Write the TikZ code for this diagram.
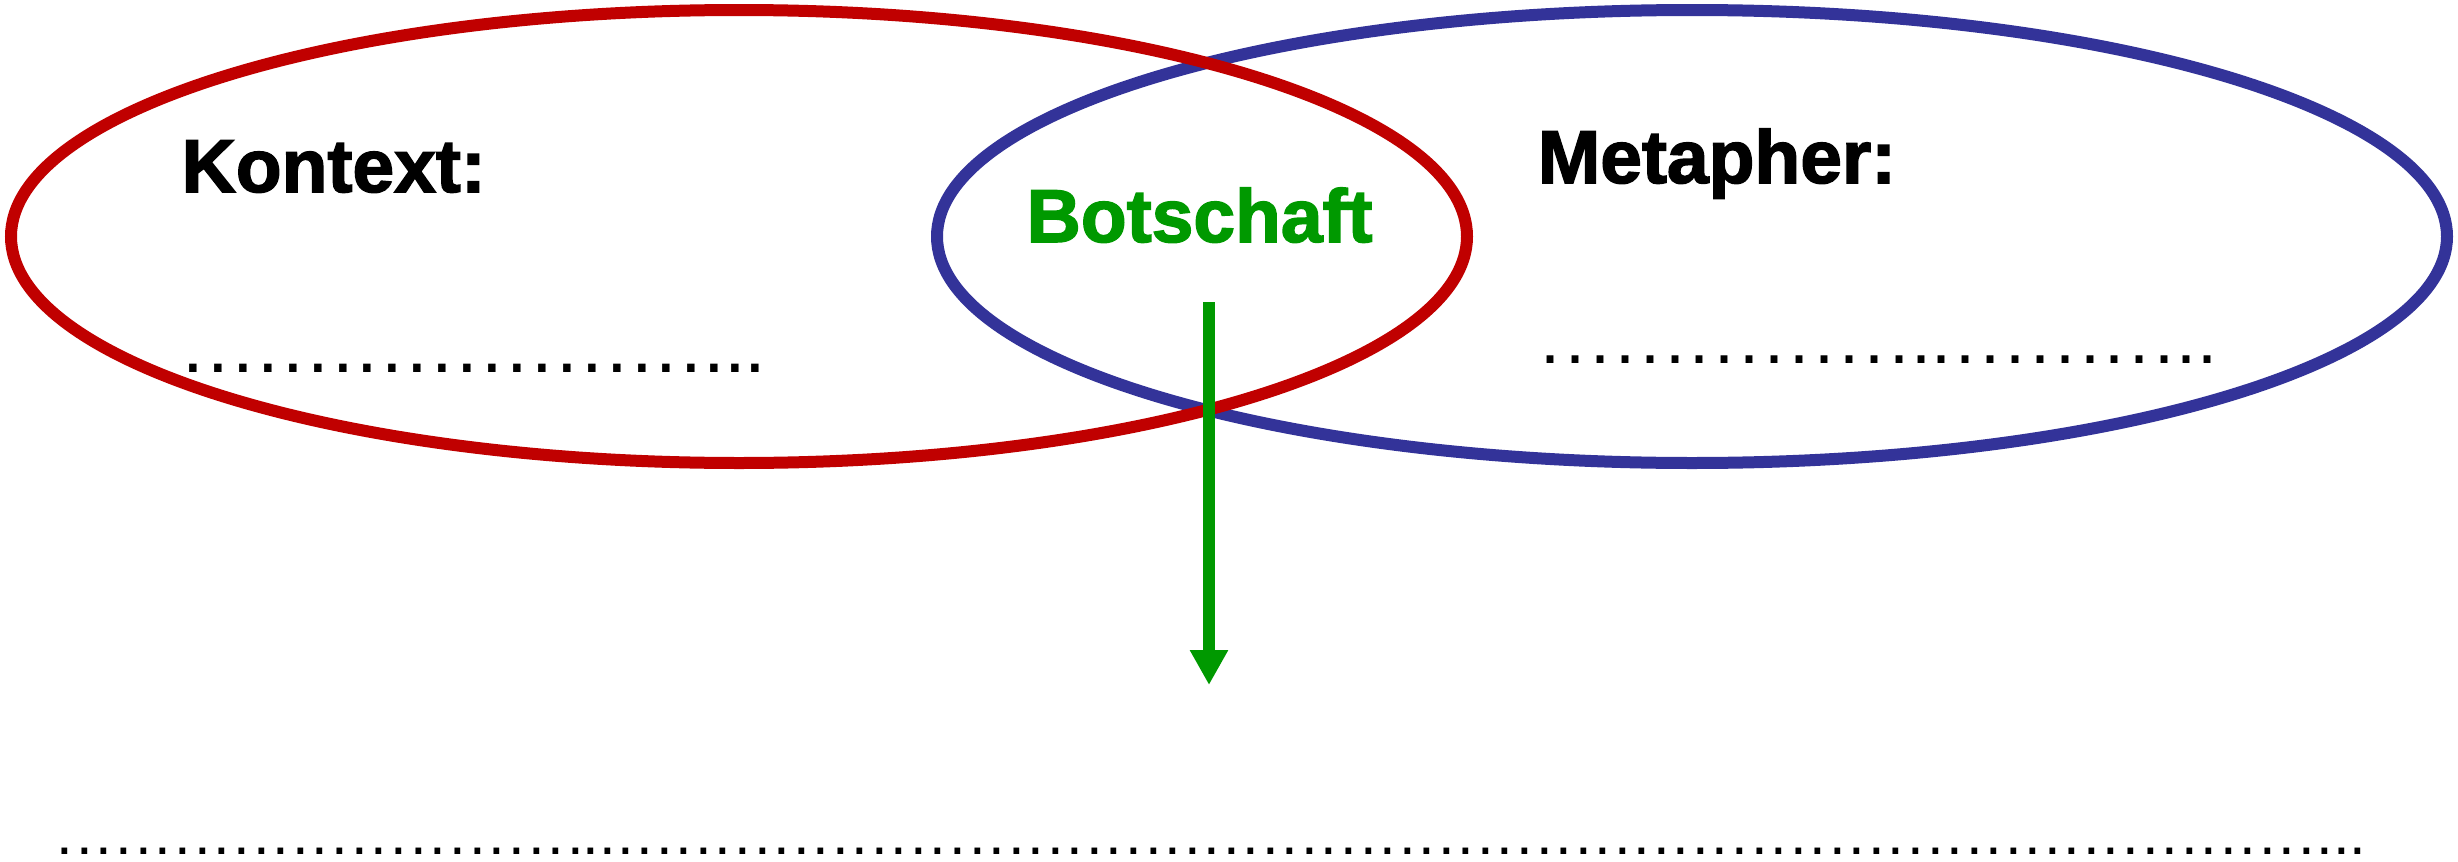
\documentclass[tikz,border=0pt]{standalone}
\usepackage{fontspec}
\setmainfont{Liberation Sans}
\usetikzlibrary{arrows.meta}
\definecolor{ctxred}{HTML}{C00000}
\definecolor{metblue}{HTML}{333399}
\definecolor{msggreen}{HTML}{009900}
% a run of #1 periods, each followed by a gap of #2
\newcount\dotctr
\newcommand\dotrun[2]{\dotctr=0 \loop\ifnum\dotctr<#1 \makebox[0pt][c]{.}\hspace{#2}\advance\dotctr by 1 \repeat}

\begin{document}
\begin{tikzpicture}[x=1pt,y=-1pt,
  ring/.style={line width=12pt},
  heading/.style={font=\fontsize{75}{90}\selectfont\bfseries\addfontfeature{FakeBold=2}, inner sep=0pt, anchor=base west},
  dotline/.style={inner sep=0pt, anchor=base west},
  msgarrow/.style={draw=msggreen, line width=12pt, -{Triangle[width=36pt,length=35pt]}}]

\fill[white] (0,0) rectangle (2458,862);
\useasboundingbox (0,0) rectangle (2458,862);

% the two overlapping fields
\draw[ring, metblue] (1692,236.5) ellipse [x radius=755pt, y radius=226.5pt];
\draw[ring, ctxred] (739,236.5) ellipse [x radius=728pt, y radius=226.5pt];

% headings
\node[heading] (ctxlabel) at (181.5,192) {Kontext:};
\node[heading] (metlabel) at (1537.6,183) {Metapher:};
\node[heading, text=msggreen] (msglabel) at (1026.5,242) {Botschaft};

% blanks to fill in
\node[dotline, font=\fontsize{78}{90}\selectfont] (ctxdots) at (193.3,372)
  {\dotrun{20}{24.9pt}\dotrun{1}{22.6pt}\dotrun{1}{21pt}\dotrun{1}{19.8pt}\dotrun{1}{0pt}};
\node[dotline, font=\fontsize{72}{86}\selectfont] (metdots) at (1550.3,363)
  {\dotrun{14}{24.9pt}\dotrun{1}{22.7pt}\dotrun{1}{20pt}\dotrun{1}{23.5pt}\dotrun{8}{24.9pt}\dotrun{1}{22.2pt}\dotrun{1}{20.4pt}\dotrun{1}{0pt}};
\node[dotline, font=\fontsize{60}{72}\selectfont] (msgdots) at (64.7,854)
  {\dotrun{26}{19.64pt}\dotrun{1}{15.3pt}\dotrun{1}{16.5pt}\dotrun{1}{17.9pt}\dotrun{86}{19.54pt}\dotrun{1}{18.2pt}\dotrun{1}{16.7pt}\dotrun{1}{15.7pt}\dotrun{1}{0pt}};

% the message leads down to the answer line
\coordinate (msgstart) at (1209,302);
\coordinate (msgtip) at (1209,685);
\draw[msgarrow] (msgstart) -- (msgtip);

\end{tikzpicture}
\end{document}
